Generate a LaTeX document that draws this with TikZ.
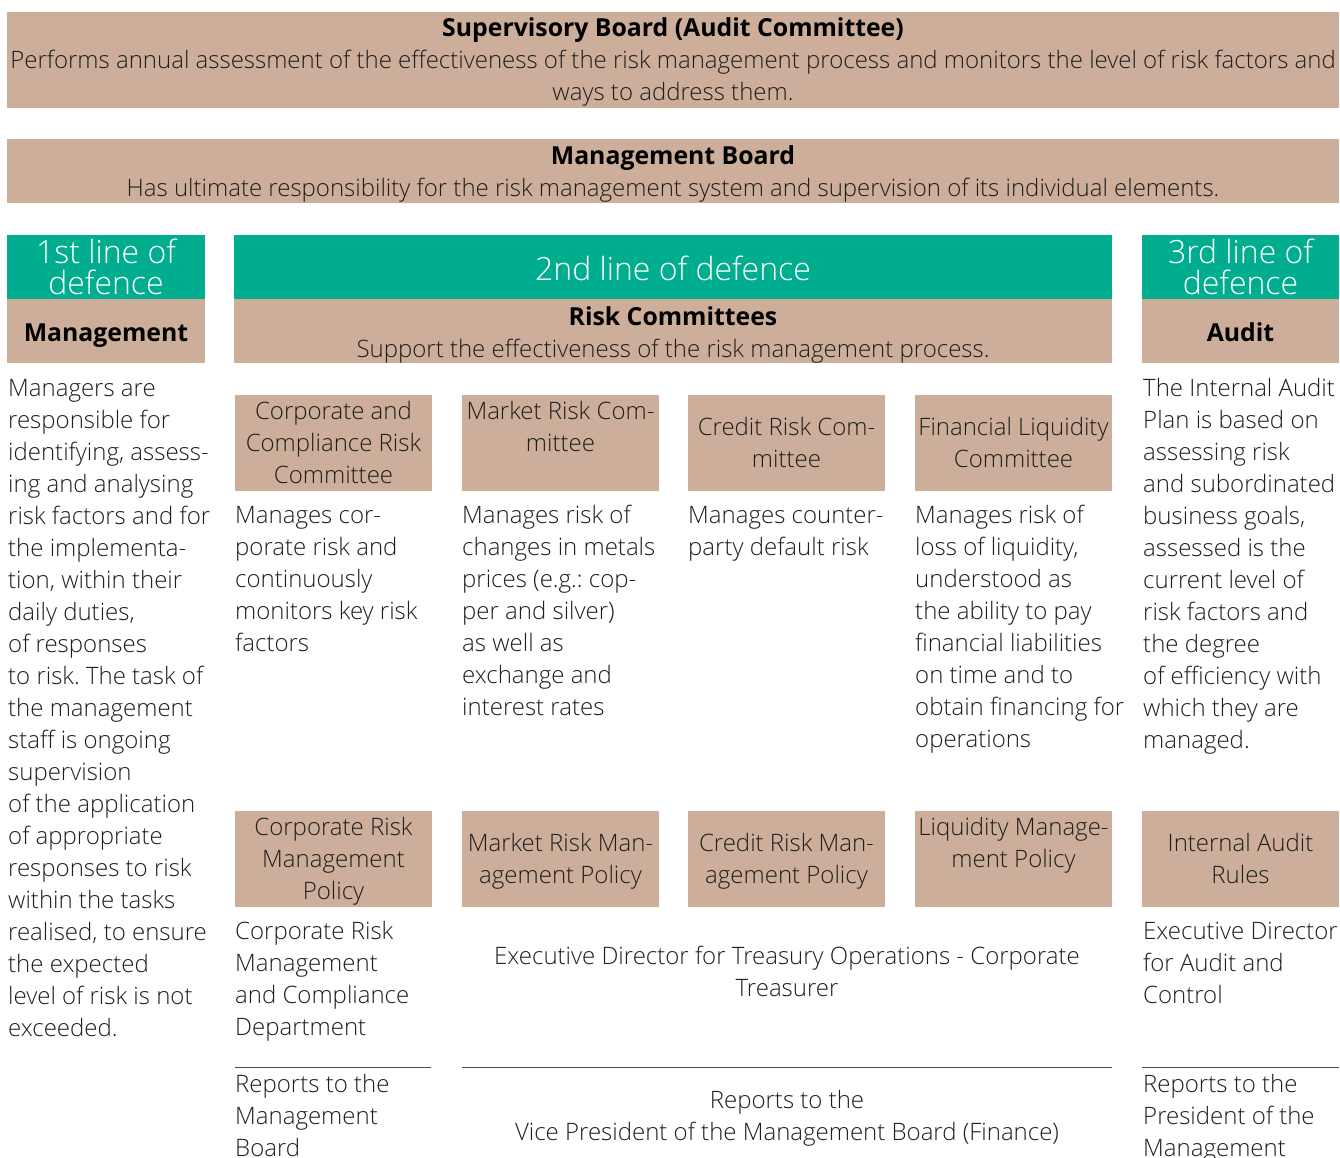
\documentclass[tikz,border=0pt]{standalone}
\usepackage{fontspec}
\IfFontExistsTF{Open Sans Light}{\setmainfont{Open Sans Light}}{\setmainfont{Open Sans}}
\IfFontExistsTF{Open Sans ExtraBold}{\newfontfamily\obold{Open Sans ExtraBold}\def\bsize{24}}{\newfontfamily\obold{Open Sans}[UprightFont=*-Bold]\def\bsize{24.8}}
\definecolor{tan}{HTML}{CCAE9A}
\definecolor{grn}{HTML}{00AE8F}
\definecolor{ink}{HTML}{1E1E1E}
\newcommand{\pbl}[2]{\parbox[t]{#1}{\raggedright #2}}
\newcommand{\pbc}[2]{\parbox[t]{#1}{\centering #2}}
\frenchspacing
\tikzset{
  body/.style={font=\fontsize{24}{32}\selectfont, text=ink, inner sep=0pt},
  big/.style={font=\fontsize{32}{32}\selectfont, text=white, inner sep=0pt},
  hd/.style={font=\obold\fontsize{\bsize}{32}\selectfont, text=black, inner sep=0pt},
  tanbox/.style={fill=tan, draw=none},
  grnbox/.style={fill=grn, draw=none},
  rule/.style={draw=black!70, line width=0.9pt}
}
\begin{document}
\begin{tikzpicture}[x=1pt,y=-1pt]
\useasboundingbox (0,0) rectangle (1340,1158);
\clip (0,0) rectangle (1340,1158);
% top boxes
\fill[tanbox] (7,12) rectangle (1339,108);
\fill[tanbox] (7,139) rectangle (1339,203);
\node[hd, anchor=base] (supT) at (673,37) {Supervisory Board (Audit Committee)};
\node[body, anchor=base] (supD) at (673,69) {\pbc{1336pt}{Performs annual assessment of the effectiveness of the risk management process and monitors the level of risk factors and\\ways to address them.}};
\node[hd, anchor=base] (mbT) at (673,165) {Management Board};
\node[body, anchor=base] (mbD) at (673,197) {Has ultimate responsibility for the risk management system and supervision of its individual elements.};
% headers
\fill[grnbox] (7,235) rectangle (205,299);
\fill[tanbox] (7,299) rectangle (205,363);
\fill[grnbox] (234,235) rectangle (1112,299);
\fill[tanbox] (234,299) rectangle (1112,363);
\fill[grnbox] (1142,235) rectangle (1339,299);
\fill[tanbox] (1142,299) rectangle (1339,363);
\node[big, anchor=base] (g1) at (106,263) {\pbc{198pt}{1st line of\\defence}};
\node[big, anchor=base] (g2) at (673,280) {2nd line of defence};
\node[big, anchor=base] (g3) at (1240.5,263) {\pbc{198pt}{3rd line of\\defence}};
\node[hd, anchor=base] (t1) at (106,341) {Management};
\node[hd, anchor=base] (t2) at (673,325) {Risk Committees};
\node[body, anchor=base] (t2d) at (673,357) {Support the effectiveness of the risk management process.};
\node[hd, anchor=base] (t3) at (1240.5,341) {Audit};
% column 1 text
\node[body, anchor=base west] (c1) at (8,396) {\pbl{230pt}{Managers are\\responsible for\\identifying, assess-\\ing and analysing\\risk factors and for\\the implementa-\\tion, within their\\daily duties,\\of responses\\to risk. The task of\\the management\\staff is ongoing\\supervision\\of the application\\of appropriate\\responses to risk\\within the tasks\\realised, to ensure\\the expected\\level of risk is not\\exceeded.}};
% column 3 text
\node[body, anchor=base west] (c3) at (1143,396) {\pbl{230pt}{The Internal Audit\\Plan is based on\\assessing risk\\and subordinated\\business goals,\\assessed is the\\current level of\\risk factors and\\the degree\\of efficiency with\\which they are\\managed.}};
% committee boxes
\fill[tanbox] (235,395) rectangle (432,491);
\fill[tanbox] (462,395) rectangle (659,491);
\fill[tanbox] (688,395) rectangle (885,491);
\fill[tanbox] (915,395) rectangle (1112,491);
\node[body, anchor=base] (ca) at (333.5,419) {\pbc{220pt}{Corporate and\\Compliance Risk\\Committee}};
\node[body, anchor=base] (cb) at (560.5,419) {\pbc{220pt}{Market Risk Com-\\mittee}};
\node[body, anchor=base] (cc) at (786.5,435) {\pbc{220pt}{Credit Risk Com-\\mittee}};
\node[body, anchor=base] (cd) at (1013.5,435) {\pbc{220pt}{Financial Liquidity\\Committee}};
% descriptions
\node[body, anchor=base west] (da) at (235,523) {\pbl{230pt}{Manages cor-\\porate risk and\\continuously\\monitors key risk\\factors}};
\node[body, anchor=base west] (db) at (462,523) {\pbl{230pt}{Manages risk of\\changes in metals\\prices (e.g.: cop-\\per and silver)\\as well as\\exchange and\\interest rates}};
\node[body, anchor=base west] (dc) at (688,523) {\pbl{230pt}{Manages counter-\\party default risk}};
\node[body, anchor=base west] (dd) at (915,523) {\pbl{230pt}{Manages risk of\\loss of liquidity,\\understood as\\the ability to pay\\financial liabilities\\on time and to\\obtain financing for\\operations}};
% policy boxes
\fill[tanbox] (235,811) rectangle (432,907);
\fill[tanbox] (462,811) rectangle (659,907);
\fill[tanbox] (688,811) rectangle (885,907);
\fill[tanbox] (915,811) rectangle (1112,907);
\fill[tanbox] (1142,811) rectangle (1339,907);
\node[body, anchor=base] (pa) at (333.5,835) {\pbc{220pt}{Corporate Risk\\Management\\Policy}};
\node[body, anchor=base] (pb) at (560.5,851) {\pbc{220pt}{Market Risk Man-\\agement Policy}};
\node[body, anchor=base] (pc) at (786.5,851) {\pbc{220pt}{Credit Risk Man-\\agement Policy}};
\node[body, anchor=base] (pd) at (1013.5,835) {\pbc{220pt}{Liquidity Manage-\\ment Policy}};
\node[body, anchor=base] (pe) at (1240.5,851) {\pbc{220pt}{Internal Audit\\Rules}};
% owners
\node[body, anchor=base west] (oa) at (235,939) {\pbl{230pt}{Corporate Risk\\Management\\and Compliance\\Department}};
\node[body, anchor=base] (ob) at (787,964) {\pbc{640pt}{Executive Director for Treasury Operations - Corporate\\Treasurer}};
\node[body, anchor=base west] (oe) at (1143,939) {\pbl{230pt}{Executive Director\\for Audit and\\Control}};
% rules
\coordinate (ra1) at (235,1067); \coordinate (ra2) at (431,1067);
\coordinate (rb1) at (462,1067); \coordinate (rb2) at (1112,1067);
\coordinate (re1) at (1142,1067); \coordinate (re2) at (1339,1067);
\draw[rule] (ra1) -- (ra2);
\draw[rule] (rb1) -- (rb2);
\draw[rule] (re1) -- (re2);
% reports
\node[body, anchor=base west] (xa) at (235,1092) {\pbl{230pt}{Reports to the\\Management\\Board}};
\node[body, anchor=base] (xb) at (787,1108) {\pbc{640pt}{Reports to the\\Vice President of the Management Board (Finance)}};
\node[body, anchor=base west] (xe) at (1143,1092) {\pbl{230pt}{Reports to the\\President of the\\Management}};
\end{tikzpicture}
\end{document}
